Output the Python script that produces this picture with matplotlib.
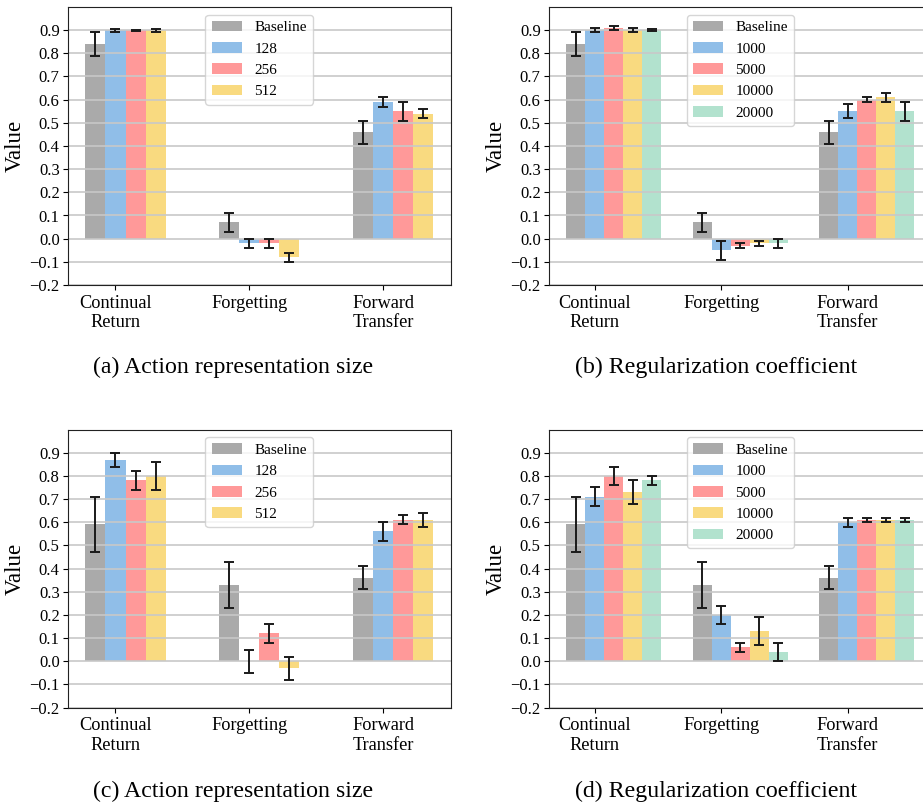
import numpy as np
import matplotlib
matplotlib.use("Agg")
import matplotlib.pyplot as plt

plt.rcParams['font.family'] = ['Liberation Serif', 'DejaVu Serif']
plt.rcParams['axes.unicode_minus'] = True

metrics = ["Continual\nReturn", "Forgetting", "Forward\nTransfer"]

# Panel (a) / (c): action representation size
size_labels = ["Baseline", "128", "256", "512"]
a_vals = [[0.84, 0.07, 0.46],
          [0.90, -0.02, 0.59],
          [0.90, -0.02, 0.55],
          [0.90, -0.08, 0.54]]
a_errs = [[0.05, 0.04, 0.05],
          [0.007, 0.02, 0.02],
          [0.002, 0.02, 0.04],
          [0.007, 0.02, 0.02]]

c_vals = [[0.59, 0.33, 0.36],
          [0.87, 0.00, 0.56],
          [0.78, 0.12, 0.61],
          [0.80, -0.03, 0.61]]
c_errs = [[0.12, 0.10, 0.05],
          [0.03, 0.05, 0.04],
          [0.04, 0.04, 0.02],
          [0.06, 0.05, 0.03]]

# Panel (b) / (d): regularization coefficient
coef_labels = ["Baseline", "1000", "5000", "10000", "20000"]
b_vals = [[0.84, 0.07, 0.46],
          [0.90, -0.05, 0.55],
          [0.91, -0.03, 0.60],
          [0.90, -0.02, 0.61],
          [0.90, -0.02, 0.55]]
b_errs = [[0.05, 0.04, 0.05],
          [0.008, 0.04, 0.03],
          [0.01, 0.01, 0.01],
          [0.008, 0.01, 0.02],
          [0.003, 0.02, 0.04]]

d_vals = [[0.59, 0.33, 0.36],
          [0.71, 0.20, 0.60],
          [0.80, 0.06, 0.61],
          [0.73, 0.13, 0.61],
          [0.78, 0.04, 0.61]]
d_errs = [[0.12, 0.10, 0.05],
          [0.04, 0.04, 0.02],
          [0.04, 0.02, 0.01],
          [0.05, 0.06, 0.01],
          [0.02, 0.04, 0.01]]

captions = ["(a) Action representation size", "(b) Regularization coefficient",
            "(c) Action representation size", "(d) Regularization coefficient"]

colors = ['#aaaaaa', '#90bee8', '#ff9999', '#f9da80', '#b2e2ce']
W = 0.15

fig = plt.figure(figsize=(9.23, 8.05), dpi=100)
FW, FH = 923, 805
ax_w, ax_h = 382.5, 278.0
positions = [(68, 285), (549, 285), (68, 707.5), (549, 707.5)]
panels = [(size_labels, a_vals, a_errs), (coef_labels, b_vals, b_errs),
          (size_labels, c_vals, c_errs), (coef_labels, d_vals, d_errs)]
cap_pos = [(233, 367), (716, 367), (233, 791), (716, 791)]

for k, ((lbls, vals, errs), (lx, by)) in enumerate(zip(panels, positions)):
    ax = fig.add_axes([lx / FW, 1 - by / FH, ax_w / FW, ax_h / FH])
    x = np.arange(len(metrics))
    for j, lab in enumerate(lbls):
        ax.bar(x + j * W, vals[j], W, yerr=errs[j], color=colors[j], label=lab,
               error_kw=dict(ecolor='#1a1a1a', elinewidth=1.4, capsize=3.8, capthick=1.4))
    ax.set_ylim(-0.2, 1.0)
    ticks = np.round(np.arange(-0.2, 0.95, 0.1), 1)
    ax.set_yticks(ticks)
    ax.set_yticklabels([f"{v:.1f}".replace('-', '\u2212') for v in ticks])
    ax.set_xticks(x + W)
    ax.set_xticklabels(metrics, fontsize=13.2)
    ax.tick_params(axis='y', labelsize=12, pad=2.5)
    ax.yaxis.grid(True, color='#c8c8c8', linewidth=1.2)
    ax.set_ylabel("Value", fontsize=16.5, labelpad=3)
    for s in ax.spines.values():
        s.set_color('#222222')
    ax.legend(loc='upper center', fontsize=11)
    cx, cy = cap_pos[k]
    fig.text(cx / FW, 1 - cy / FH, captions[k], ha='center', va='center', fontsize=17.2)

fig.savefig("out.png", dpi=100)
